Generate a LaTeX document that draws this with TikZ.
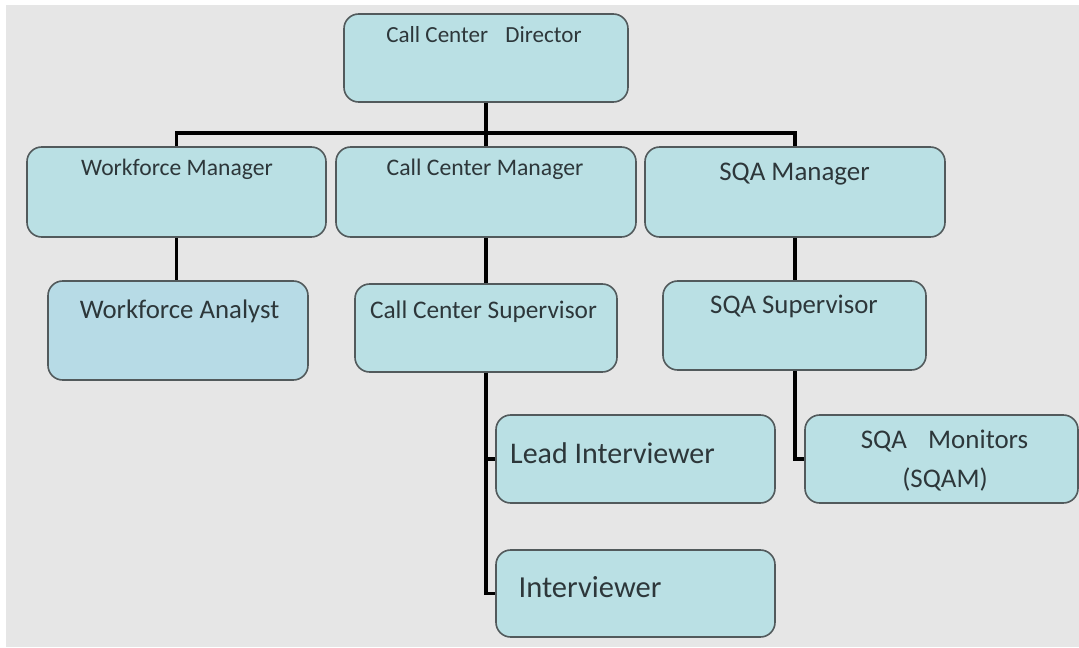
\documentclass[tikz,border=0pt]{standalone}
\usepackage{fontspec}
\setmainfont{Carlito}
\definecolor{bggray}{RGB}{230,230,230}
\definecolor{boxfill}{RGB}{186,224,228}
\definecolor{boxfillb}{RGB}{183,219,230}
\definecolor{boxline}{RGB}{82,90,92}
\definecolor{txtcol}{RGB}{45,55,58}

\begin{document}
\begin{tikzpicture}[x=0.75pt,y=-0.75pt,
    box/.style 2 args={draw=boxline,line width=1.2pt,fill=boxfill,rounded corners=11pt,
        inner sep=0pt,minimum width=#1*0.75pt,minimum height=#2*0.75pt},
    txt/.style={anchor=base,text=txtcol,inner sep=0pt,font=\fontsize{#1}{#1}\selectfont},
    conn/.style={line width=2.3pt,black}]
                \useasboundingbox (0,0) rectangle (1079,647);
                \fill[white] (0,0) rectangle (1079,647);
                \fill[bggray] (6,5) rectangle (1079,647);
                % boxes
                \node[box={284}{88}] (dir) at (486,58) {};
                \node[box={299}{90}] (wfm) at (176.5,192) {};
                \node[box={300}{90}] (ccm) at (486,192) {};
                \node[box={300}{90}] (sqam) at (795,192) {};
                \node[box={260}{99},fill=boxfillb] (wfa) at (178,330.5) {};
                \node[box={262}{88}] (ccs) at (486,328) {};
                \node[box={263}{89}] (sqas) at (794.5,325.5) {};
                \node[box={279}{88}] (lead) at (635.5,459) {};
                \node[box={279}{87}] (intv) at (635.5,593.5) {};
                \node[box={273}{88}] (mon) at (941.5,459) {};
                % texts
                \node[txt=17.3] (dirtxt) at (484,42) {Call Center\hspace{13pt}Director};
                \node[txt=17.7] (wfmtxt) at (177,175) {Workforce Manager};
                \node[txt=17.8] (ccmtxt) at (485,175) {Call Center Manager};
                \node[txt=20.2] (sqamtxt) at (794.5,180) {SQA Manager};
                \node[txt=20.1] (wfatxt) at (179.5,318) {Workforce Analyst};
                \node[txt=19] (ccstxt) at (483.5,318) {Call Center Supervisor};
                \node[txt=20.1] (sqastxt) at (794,313) {SQA Supervisor};
                \node[txt=22.5] (leadtxt) at (612.5,463) {Lead Interviewer};
                \node[txt=22.9] (intvtxt) at (590,597) {Interviewer};
                \node[txt=20.2] (montxt) at (944.5,448) {SQA\hspace{16pt}Monitors};
                \node[txt=20.2] (montxtb) at (945,487) {(SQAM)};
                % connectors
                \coordinate (bus) at (486,133);
                \draw[conn] (dir.south) -- (ccm.north);
                \draw[conn] (wfm.north) |- (bus) -| (sqam.north);
                \draw[conn] (wfm.south) -- (wfm.south |- wfa.north);
                \draw[conn] (ccm.south) -- (ccs.north);
                \draw[conn] (sqam.south) -- (sqam.south |- sqas.north);
                \draw[conn] (ccs.south) |- (lead.west);
                \draw[conn] (ccs.south) |- (intv.west);
                \draw[conn] (sqas.south -| sqam.south) |- (mon.west);
\end{tikzpicture}
\end{document}
